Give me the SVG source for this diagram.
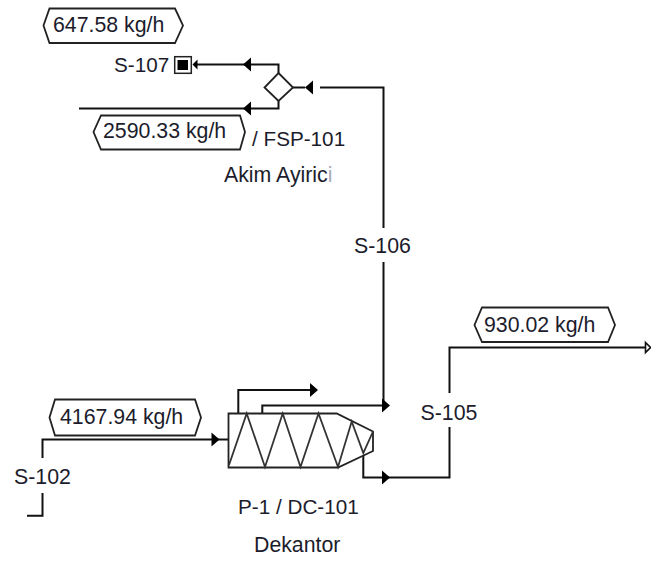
<svg xmlns="http://www.w3.org/2000/svg" width="651" height="561" viewBox="0 0 651 561">
<style>
text{font-family:"Liberation Sans",Arial,sans-serif;font-size:21.3px;fill:#1c1c2c}
text.n{font-size:20.7px}
.l{fill:none;stroke:#111;stroke-width:2}
.e{fill:#fff;stroke:#222;stroke-width:1.8}
.z{fill:none;stroke:#333;stroke-width:1.8}
.a{fill:#000;stroke:none}
</style>
<defs>
<path id="al" class="a" d="M-4,0 L4,-7 L4,7Z"/>
<path id="ar" class="a" d="M4,0 L-4,-7 L-4,7Z"/>
</defs>
<rect width="651" height="561" fill="#fff"/>
<g id="connectors">
<path class="l" d="M197,64.5H278.5V73"/>
<path class="l" d="M293,87.5H305"/>
<path class="l" d="M320,87.5H383.5V228"/>
<path class="l" d="M383.5,262V405.5H262.3V413"/>
<path class="l" d="M278.5,101V108.5H79"/>
<path class="l" d="M27,515.7H42.5V493"/>
<path class="l" d="M42.5,458V439.5H228"/>
<path class="l" d="M238.3,413V390H312"/>
<path class="l" d="M363.3,453V477.5H449.5V427"/>
<path class="l" d="M449.5,393V347.5H645"/>
<path class="a" d="M192.5,64.5L197.5,59.5V69.5Z"/>
<use href="#al" x="247" y="64.5"/>
<use href="#al" x="309" y="87.5"/>
<use href="#al" x="247" y="108.5"/>
<use href="#ar" x="215.5" y="439.5"/>
<use href="#ar" x="314" y="390"/>
<use href="#ar" x="386" y="405.5"/>
<use href="#ar" x="386" y="477.5"/>
<path d="M645.5,342.5L650.5,347.5L645.5,352.5Z" fill="#fff" stroke="#111" stroke-width="1.6"/>
</g>
<g id="S-107-end">
<rect x="174.7" y="56.7" width="16.6" height="16.6" fill="#fff" stroke="#222" stroke-width="1.5"/>
<rect x="177.5" y="60" width="10.5" height="10" fill="#000"/>
<text class="n" x="114" y="71.7">S-107</text>
</g>
<g id="FSP-101">
<path class="e" d="M278.5,73L293,87.5L278.5,101L264.5,87.5Z"/>
<text class="n" x="252" y="146">/ FSP-101</text>
<text x="224" y="181.5">Akim Ayiric<tspan fill="#aab">i</tspan></text>
</g>
<g id="DC-101">
<path class="e" d="M228.5,413.5H336.7L373,431.5V451L338,467.5H228.5Z"/>
<path class="z" d="M229,465L246.7,413.5L265,467L282.7,413.5L300.5,467L318.5,413.5L338,467L351.7,421.5L363.3,453L373,431.5"/>
<text class="n" x="238" y="514">P-1 / DC-101</text>
<text x="254" y="552">Dekantor</text>
</g>
<g id="label-647">
<path class="e" d="M49.5,8.5H175L183,25.5L175,43H49.5L43.5,25.5Z"/>
<text x="53" y="32">647.58 kg/h</text>
</g>
<g id="label-2590">
<path class="e" d="M101,115.5H240L245,132L240,149.5H101L93.5,132Z"/>
<text x="103" y="137.7">2590.33 kg/h</text>
</g>
<g id="label-4167">
<path class="e" d="M55,399.5H195L201,417.5L195,435.5H55L49.5,417.5Z"/>
<text x="60" y="424">4167.94 kg/h</text>
</g>
<g id="label-930">
<path class="e" d="M482,307.5H608L615,325L608,342H482L474.5,325Z"/>
<text x="484" y="332">930.02 kg/h</text>
</g>
<g id="stream-labels">
<text x="354" y="253">S-106</text>
<text x="420.5" y="420">S-105</text>
<text x="14" y="484">S-102</text>
</g>
</svg>
